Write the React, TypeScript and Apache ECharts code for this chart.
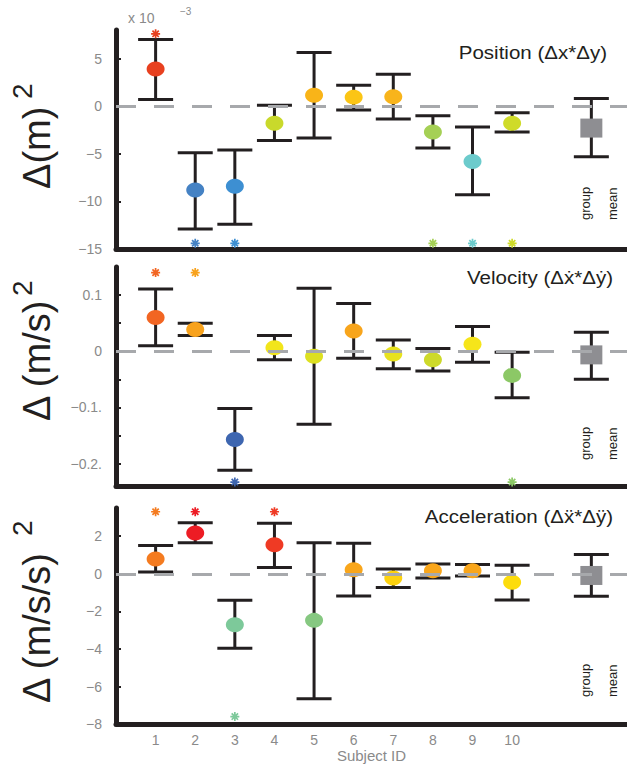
import React, { useEffect, useRef } from "react";
import * as echarts from "echarts";

// ---------- data ----------
const subjects = [1, 2, 3, 4, 5, 6, 7, 8, 9, 10];
const GROUP_X = 12;
const xTickValues = [1, 2, 3, 4, 5, 6, 7, 8, 9, 10];

// Panel 1: Position (x 10^-3)
const posMean = [3.9, -8.8, -8.4, -1.8, 1.15, 0.95, 1.0, -2.7, -5.8, -1.8];
const posLow = [0.7, -12.9, -12.4, -3.6, -3.35, -0.4, -1.35, -4.4, -9.3, -2.7];
const posHigh = [7.0, -4.9, -4.6, 0.1, 5.65, 2.2, 3.35, -1.0, -2.2, -0.7];
const posGroup = { mean: -2.3, low: -5.3, high: 0.8 };
const posStarSubjects = [1, 2, 3, 8, 9, 10];
const posStarY = [7.6, -14.4, -14.4, -14.4, -14.4, -14.4];
const posColors = ["#e8401f", "#4582c4", "#3d8fd2", "#c9d92b", "#f9b418", "#fbc515", "#f8b41b", "#a5d055", "#6ccbcc", "#cfdb29"];
const posTicks = [-15, -10, -5, 0, 5];
const posLabels = ["\u221215", "\u221210", "\u22125", "0", "5"];

// Panel 2: Velocity
const velMean = [0.06, 0.0385, -0.157, 0.006, -0.009, 0.036, -0.005, -0.015, 0.0125, -0.043];
const velLow = [0.0096, 0.028, -0.212, -0.015, -0.13, -0.0124, -0.031, -0.035, -0.0195, -0.083];
const velHigh = [0.111, 0.05, -0.102, 0.028, 0.112, 0.085, 0.02, 0.005, 0.044, -0.002];
const velGroup = { mean: -0.0065, low: -0.05, high: 0.034 };
const velStarSubjects = [1, 2, 3, 10];
const velStarY = [0.14, 0.14, -0.233, -0.233];
const velColors = ["#f26522", "#f8a21c", "#3e66b0", "#f2e51b", "#dde021", "#f8a51c", "#e8e21e", "#cdd92a", "#f6e51a", "#8cc866"];
const velTicks = [-0.2, -0.15, -0.1, -0.05, 0, 0.05, 0.1];
const velLabelValues = [-0.2, -0.1, 0, 0.1];
const velLabels = ["\u22120.2.", "\u22120.1.", "0", "0.1"];

// Panel 3: Acceleration
const accMean = [0.78, 2.17, -2.71, 1.55, -2.48, 0.21, -0.23, 0.16, 0.16, -0.45];
const accLow = [0.1, 1.65, -3.97, 0.33, -6.65, -1.18, -0.73, -0.22, -0.12, -1.39];
const accHigh = [1.51, 2.71, -1.41, 2.69, 1.65, 1.63, 0.26, 0.52, 0.49, 0.45];
const accGroup = { mean: -0.09, low: -1.2, high: 1.03 };
const accStarSubjects = [1, 2, 4, 3];
const accStarY = [3.3, 3.3, 3.3, -7.6];
const accColors = ["#f47b20", "#ed1c24", "#7dc99a", "#ef3a24", "#86c881", "#f9a61b", "#fdd20e", "#f9a61b", "#f9a61b", "#fcdc0c"];
const accTicks = [-8, -6, -4, -2, 0, 2];
const accLabels = ["\u22128", "\u22126", "\u22124", "\u22122", "0", "2"];

// ---------- styling ----------
const FONT = "Liberation Sans, Arial, Helvetica, sans-serif";
const INK = "#231f20";
const GRAY_TXT = "#8a8a8a";
const GROUP_COLOR = "#8e8e92";

function asteriskPath(): string {
  const c = 5, L = 10, T = 1.9;
  let d = "";
  [0, 45, 90, 135].forEach((deg) => {
    const a = (deg * Math.PI) / 180;
    const dx = Math.cos(a), dy = Math.sin(a);
    const nx = -dy, ny = dx;
    const pts = [
      [c + dx * L / 2 + nx * T / 2, c + dy * L / 2 + ny * T / 2],
      [c - dx * L / 2 + nx * T / 2, c - dy * L / 2 + ny * T / 2],
      [c - dx * L / 2 - nx * T / 2, c - dy * L / 2 - ny * T / 2],
      [c + dx * L / 2 - nx * T / 2, c + dy * L / 2 - ny * T / 2],
    ];
    d += "M" + pts.map((p) => p[0].toFixed(3) + " " + p[1].toFixed(3)).join(" L") + " Z ";
  });
  return "path://" + d;
}
const STAR = asteriskPath();

type Panel = {
  mean: number[]; low: number[]; high: number[];
  group: { mean: number; low: number; high: number };
  starSubjects: number[]; starY: number[]; colors: string[];
  ticks: number[]; labelValues: number[]; labels: string[];
  min: number; max: number; top: number; height: number;
};

const panels: Panel[] = [
  { mean: posMean, low: posLow, high: posHigh, group: posGroup, starSubjects: posStarSubjects, starY: posStarY, colors: posColors,
    ticks: posTicks, labelValues: posTicks, labels: posLabels, min: -15, max: 8, top: 30, height: 219 },
  { mean: velMean, low: velLow, high: velHigh, group: velGroup, starSubjects: velStarSubjects, starY: velStarY, colors: velColors,
    ticks: velTicks, labelValues: velLabelValues, labels: velLabels, min: -0.24, max: 0.15, top: 267, height: 219 },
  { mean: accMean, low: accLow, high: accHigh, group: accGroup, starSubjects: accStarSubjects, starY: accStarY, colors: accColors,
    ticks: accTicks, labelValues: accTicks, labels: accLabels, min: -8, max: 3.5, top: 508, height: 220 },
];

function buildOption() {
  const grid: any[] = [];
  const xAxis: any[] = [];
  const yAxis: any[] = [];
  const series: any[] = [];

  panels.forEach((p, i) => {
    grid.push({ left: 116, width: 511, top: p.top, height: p.height, containLabel: false });
    const isLast = i === panels.length - 1;
    xAxis.push({
      type: "value", gridIndex: i, min: 0, max: 12.9,
      axisLine: { show: true, onZero: false, lineStyle: { color: INK, width: 5 } },
      axisTick: { show: false },
      splitLine: { show: false },
      axisLabel: isLast
        ? { show: true, customValues: xTickValues, color: GRAY_TXT, fontSize: 14, fontFamily: FONT, margin: 9 }
        : { show: false },
      name: isLast ? "Subject ID" : "",
      nameLocation: "middle",
      nameGap: 22,
      nameTextStyle: { color: GRAY_TXT, fontSize: 15, fontFamily: FONT },
    });
    const lv = p.labelValues, lb = p.labels;
    yAxis.push({
      type: "value", gridIndex: i, min: p.min, max: p.max,
      axisLine: { show: true, onZero: false, lineStyle: { color: INK, width: 5 } },
      axisTick: { show: true, inside: true, length: 5, customValues: p.ticks, lineStyle: { color: INK, width: 2 } },
      splitLine: { show: false },
      axisLabel: {
        customValues: p.labelValues, color: GRAY_TXT, fontSize: 14, fontFamily: FONT, margin: 14,
        formatter: (v: number) => {
          for (let k = 0; k < lv.length; k++) if (Math.abs(lv[k] - v) < 1e-9) return lb[k];
          return "";
        },
      },
    });

    const errData = subjects.map((s, k) => [s, p.low[k], p.high[k]]);
    errData.push([GROUP_X, p.group.low, p.group.high]);
    series.push({
      type: "custom", xAxisIndex: i, yAxisIndex: i, z: 1, silent: true,
      data: errData,
      renderItem: (params: any, api: any) => {
        const x = api.value(0);
        const top = api.coord([x, api.value(2)]);
        const bot = api.coord([x, api.value(1)]);
        const hw = 17.5;
        const st = { stroke: INK, lineWidth: 3, fill: null };
        return {
          type: "group",
          children: [
            { type: "line", shape: { x1: top[0], y1: top[1], x2: bot[0], y2: bot[1] }, style: st },
            { type: "line", shape: { x1: top[0] - hw, y1: top[1], x2: top[0] + hw, y2: top[1] }, style: st },
            { type: "line", shape: { x1: bot[0] - hw, y1: bot[1], x2: bot[0] + hw, y2: bot[1] }, style: st },
          ],
        };
      },
    });
    series.push({
      type: "line", xAxisIndex: i, yAxisIndex: i, z: 2, data: [], silent: true,
      markLine: {
        silent: true, symbol: ["none", "none"], label: { show: false },
        lineStyle: { color: "#a7a9ac", width: 3, type: [20, 18] },
        data: [{ yAxis: 0 }],
      },
    });
    series.push({
      type: "scatter", xAxisIndex: i, yAxisIndex: i, z: 3, silent: true,
      symbol: "circle", symbolSize: [18, 15],
      data: subjects.map((s, k) => ({ value: [s, p.mean[k]], itemStyle: { color: p.colors[k], opacity: 1 } })),
    });
    series.push({
      type: "scatter", xAxisIndex: i, yAxisIndex: i, z: 3, silent: true,
      symbol: "rect", symbolSize: [22, 19],
      itemStyle: { color: GROUP_COLOR, opacity: 1 },
      data: [[GROUP_X, p.group.mean]],
    });
    series.push({
      type: "scatter", xAxisIndex: i, yAxisIndex: i, z: 4, silent: true,
      symbol: STAR, symbolSize: 9,
      data: p.starSubjects.map((s, k) => ({ value: [s, p.starY[k]], itemStyle: { color: p.colors[s - 1], opacity: 1 } })),
    });
  });

  const txt = (text: string, x: number, y: number, size: number, color: string, opts: any = {}) => ({
    type: "text", x, y, rotation: opts.rotation || 0, scaleX: opts.scaleX || 1, silent: true,
    style: {
      text, fontSize: size, fontFamily: FONT, fill: color,
      align: opts.align || "left", textAlign: opts.align || "left",
      verticalAlign: opts.va || "middle", textVerticalAlign: opts.va || "middle",
    },
  });
  const R = Math.PI / 2;
  const graphic: any[] = [
    // scale factor
    txt("x 10", 128, 18, 14, GRAY_TXT),
    txt("\u22123", 180, 11, 10, GRAY_TXT),
    // titles
    txt("Position (\u0394x*\u0394y)", 607, 52, 19, INK, { align: "right", scaleX: 1.08 }),
    txt("Velocity (\u0394\u1e8b*\u0394\u1e8f)", 613, 277, 19, INK, { align: "right", scaleX: 1.08 }),
    txt("Acceleration (\u0394\u1e8d*\u0394\u00ff)", 613, 516, 19, INK, { align: "right", scaleX: 1.08 }),
    // y-axis names
    txt("\u0394(m)", 37, 189, 38, INK, { rotation: R }),
    txt("2", 22, 99, 28, INK, { rotation: R }),
    txt("\u0394 (m/s)", 37, 421, 38, INK, { rotation: R }),
    txt("2", 22, 296, 28, INK, { rotation: R }),
    txt("\u0394 (m/s/s)", 37, 703, 38, INK, { rotation: R }),
    txt("2", 22, 536, 28, INK, { rotation: R }),
    // group / mean
    txt("group", 585, 220, 13, INK, { rotation: R }),
    txt("mean", 612, 220, 13, INK, { rotation: R }),
    txt("group", 585, 460, 13, INK, { rotation: R }),
    txt("mean", 612, 460, 13, INK, { rotation: R }),
    txt("group", 585, 697, 13, INK, { rotation: R }),
    txt("mean", 612, 697, 13, INK, { rotation: R }),
  ];

  return {
    animation: false,
    backgroundColor: "#ffffff",
    textStyle: { fontFamily: FONT },
    grid, xAxis, yAxis, series, graphic,
  };
}

export default function App() {
  const ref = useRef<HTMLDivElement>(null);
  useEffect(() => {
    if (!ref.current) return;
    const chart = echarts.init(ref.current, undefined, { renderer: "svg" });
    chart.setOption(buildOption() as any);
    return () => chart.dispose();
  }, []);
  return (
    <div
      ref={ref}
      style={{ position: "fixed", left: 0, top: 0, width: 627, height: 764, background: "#fff" }}
    />
  );
}
